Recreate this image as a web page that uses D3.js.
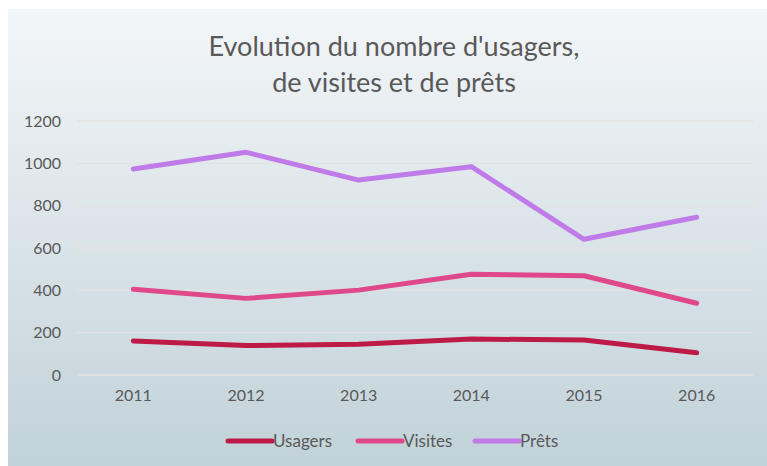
<!DOCTYPE html>
<html>
<head>
<meta charset="utf-8">
<script src="https://cdn.jsdelivr.net/npm/d3@7"></script>
<style>
  body { margin: 0; background: #fff; }
  text { font-family: Lato, "Open Sans", sans-serif; fill: #595959; }
</style>
</head>
<body>
<div id="chart"></div>
<script>
// data
var years = ["2011", "2012", "2013", "2014", "2015", "2016"];
var usagers = [161, 139, 145, 170, 165, 105];
var visites = [405, 362, 401, 476, 469, 339];
var prets = [973, 1052, 921, 984, 641, 745];
var yTicks = [0, 200, 400, 600, 800, 1000, 1200];
var seriesNames = ["Usagers", "Visites", "Prêts"];
var seriesColors = ["#bd1a47", "#e0488c", "#c07be8"];

var W = 767, H = 466;
var svg = d3.select("#chart").append("svg")
  .attr("width", W).attr("height", H);

var defs = svg.append("defs");
var grad = defs.append("linearGradient").attr("id", "bg")
  .attr("x1", 0).attr("y1", 0).attr("x2", 0).attr("y2", 1);
grad.append("stop").attr("offset", "0%").attr("stop-color", "#f3f6f8");
grad.append("stop").attr("offset", "100%").attr("stop-color", "#c1d2d9");

svg.append("rect").attr("x", 8).attr("y", 9)
  .attr("width", W - 8).attr("height", H - 9)
  .attr("fill", "url(#bg)");

// title
var title = svg.append("text")
  .attr("text-anchor", "middle")
  .style("font-size", "27px");
title.append("tspan").attr("x", 394).attr("y", 56).text("Evolution du nombre d'usagers,");
title.append("tspan").attr("x", 394).attr("y", 92).text("de visites et de prêts");

var x = d3.scaleBand().domain(years).range([77, 753]);
var y = d3.scaleLinear().domain([0, 1200]).range([375, 121]);

// grid
svg.append("g").selectAll("line").data(yTicks).enter().append("line")
  .attr("x1", 77).attr("x2", 753)
  .attr("y1", function(d){ return y(d); })
  .attr("y2", function(d){ return y(d); })
  .attr("stroke", "#e2e2e2").attr("stroke-width", 1.3);

// y axis labels
var yAxis = svg.append("g").attr("transform", "translate(77,0)")
  .call(d3.axisLeft(y).tickValues(yTicks).tickFormat(d3.format("d")).tickSize(0).tickPadding(16));
yAxis.select(".domain").remove();
yAxis.selectAll("text").style("font-size", "16px").attr("fill", "#595959");

// x axis labels
var xAxis = svg.append("g").attr("transform", "translate(0,375)")
  .call(d3.axisBottom(x).tickSize(0).tickPadding(15));
xAxis.select(".domain").remove();
xAxis.selectAll("text").style("font-size", "16px").attr("fill", "#595959");

var line = d3.line()
  .x(function(d, i){ return x(years[i]) + x.bandwidth() / 2; })
  .y(function(d){ return y(d); });

var allSeries = [usagers, visites, prets];
allSeries.forEach(function(s, k){
  svg.append("path")
    .attr("d", line(s))
    .attr("fill", "none")
    .attr("stroke", seriesColors[k])
    .attr("stroke-width", 5)
    .attr("stroke-linecap", "round")
    .attr("stroke-linejoin", "round");
});

// legend
var legendX = [228, 358, 475];
var leg = svg.append("g");
seriesNames.forEach(function(n, k){
  leg.append("line")
    .attr("x1", legendX[k]).attr("x2", legendX[k] + 44)
    .attr("y1", 441).attr("y2", 441)
    .attr("stroke", seriesColors[k]).attr("stroke-width", 5)
    .attr("stroke-linecap", "round");
  leg.append("text")
    .attr("x", legendX[k] + 45).attr("y", 447)
    .style("font-size", "17px")
    .text(n);
});
</script>
</body>
</html>
